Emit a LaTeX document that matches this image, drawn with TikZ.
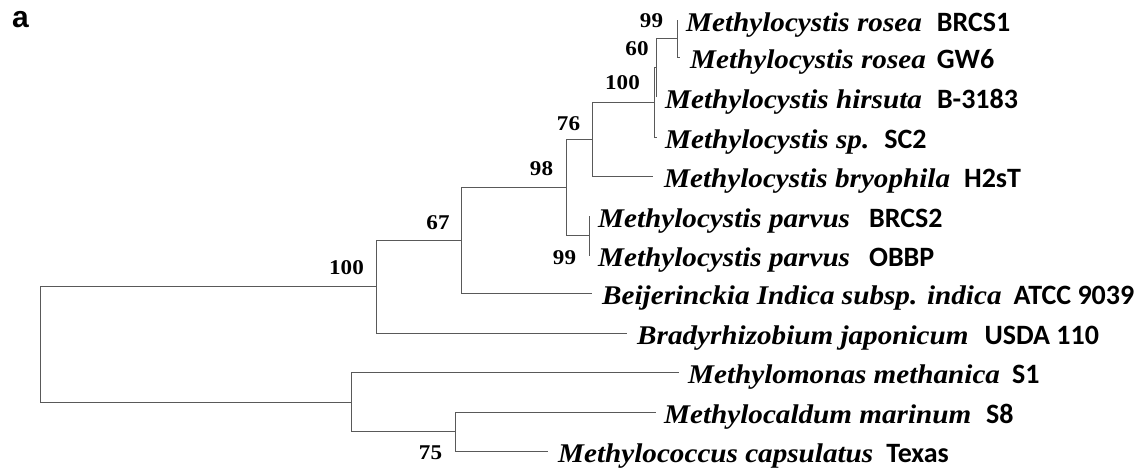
\documentclass[tikz,border=0pt]{standalone}
\usepackage{fontspec}
\setmainfont{Liberation Serif}
\newfontfamily\spfont{Liberation Serif}[FakeStretch=1.08]
\newfontfamily\stfont{Carlito}
\newfontfamily\bsfont{Liberation Serif}[FakeStretch=1.1]
\newfontfamily\tagfont{Liberation Sans}
\newcommand\strn[2][15pt]{\hspace{#1}{\fontsize{28}{30}\stfont\bfseries\upshape #2}}
\begin{document}
\begin{tikzpicture}[x=1pt,y=-1pt,
  branch/.style={draw=black!65, line width=1pt},
  leaf/.style={anchor=base west, inner sep=0pt, font=\fontsize{27}{30}\spfont\bfseries\itshape},
  boot/.style={inner sep=0pt, font=\fontsize{21}{24}\bsfont\bfseries}]
\useasboundingbox (0,0) rectangle (1135,471);
% leaf ends
\coordinate (L0) at (677,20);
\coordinate (L1) at (680,57.5);
\coordinate (L2) at (656,97);
\coordinate (L3) at (657,137);
\coordinate (L4) at (653,176);
\coordinate (L5) at (590,216);
\coordinate (L6) at (590,255);
\coordinate (L7) at (592,293);
\coordinate (L8) at (627,333);
\coordinate (L9) at (679,372.5);
\coordinate (L10) at (656,412);
\coordinate (L11) at (548,451);
% internal nodes
\coordinate (NC) at (677,38.75);
\coordinate (NB) at (656,67.9);
\coordinate (NA) at (654,102.4);
\coordinate (N76) at (592,139.2);
\coordinate (Np) at (589,235.5);
\coordinate (N98) at (566,187.4);
\coordinate (N67) at (461,240.2);
\coordinate (N100) at (376,286.6);
\coordinate (N75) at (455,431.5);
\coordinate (NL) at (351,402);
\coordinate (R) at (40,344.3);
% branches
\draw[branch] (R) |- (N100);
\draw[branch] (R) |- (NL);
\draw[branch] (N100) |- (N67);
\draw[branch] (N100) |- (L8);
\draw[branch] (N67) |- (N98);
\draw[branch] (N67) |- (L7);
\draw[branch] (N98) |- (N76);
\draw[branch] (N98) |- (Np);
\draw[branch] (N76) |- (NA);
\draw[branch] (N76) |- (L4);
\draw[branch] (NA) |- (NB);
\draw[branch] (NA) |- (L3);
\draw[branch] (NB) |- (NC);
\draw[branch] (NB) |- (L2);
\draw[branch] (NC) |- (L0);
\draw[branch] (NC) |- (L1);
\draw[branch] (Np) |- (L5);
\draw[branch] (Np) |- (L6);
\draw[branch] (NL) |- (L9);
\draw[branch] (NL) |- (N75);
\draw[branch] (N75) |- (L10);
\draw[branch] (N75) |- (L11);
% leaf labels
\node[leaf] (t0) at (686,31) {Methylocystis rosea\strn{BRCS1}};
\node[leaf] (t1) at (690,68.5) {Methylocystis rosea\strn[11pt]{GW6}};
\node[leaf] (t2) at (665,108) {Methylocystis hirsuta\strn{B-3183}};
\node[leaf] (t3) at (665,148) {Methylocystis sp.\strn{SC2}};
\node[leaf] (t4) at (664,187) {Methylocystis bryophila\strn[14pt]{H2sT}};
\node[leaf] (t5) at (598,227) {Methylocystis parvus\strn[19pt]{BRCS2}};
\node[leaf] (t6) at (598,266) {Methylocystis parvus\strn[19pt]{OBBP}};
\node[leaf] (t7) at (602,304) {Beijerinckia Indica subsp. indica\strn[12pt]{ATCC 9039}};
\node[leaf] (t8) at (637,344) {Bradyrhizobium japonicum\strn[16pt]{USDA 110}};
\node[leaf] (t9) at (688,383.5) {Methylomonas methanica\strn[12pt]{S1}};
\node[leaf] (t10) at (664,423) {Methylocaldum marinum\strn{S8}};
\node[leaf] (t11) at (558,462) {Methylococcus capsulatus\strn[13pt]{Texas}};
% bootstrap values
\node[boot] (b1) at (651.5,21) {99};
\node[boot] (b2) at (637,49) {60};
\node[boot] (b3) at (622.5,83) {100};
\node[boot] (b4) at (568.5,124) {76};
\node[boot] (b5) at (541.5,169) {98};
\node[boot] (b6) at (438,223) {67};
\node[boot] (b7) at (346.5,268) {100};
\node[boot] (b8) at (564.5,258) {99};
\node[boot] (b9) at (430.5,453) {75};
% panel letter
\node[inner sep=0pt, font=\fontsize{30}{30}\tagfont\bfseries] (pa) at (20.5,19.5) {a};
\end{tikzpicture}
\end{document}
